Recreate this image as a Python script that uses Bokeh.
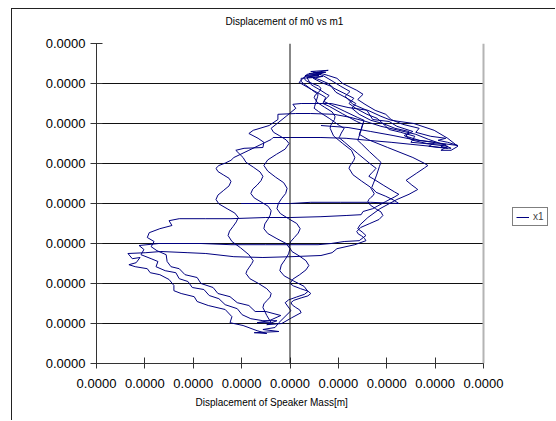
from bokeh.plotting import figure
from bokeh.models import (Range1d, FixedTicker, CustomJSTickFormatter, Span, Legend, LegendItem, Title)
from bokeh.embed import file_html
from bokeh.resources import INLINE

# Trajectory, in micrometres: (m0 = speaker mass, m1 = "x1")
h4 = [(6.4,19.5),(8.5,19.3),(12.0,19.0),(16.7,18.0),(21.3,17.0),(25.4,16.0),(29.5,15.3),(34.7,14.5)]
d1 = [(32.6,15.3),(30.6,15.8),(32.2,16.3),(29.1,16.8),(26.0,17.8),(26.7,18.8),(23.3,19.8),(20.9,21.0),
      (19.8,22.3),(17.6,23.3),(15.5,24.8),(14.0,26.0),(15.1,27.3),(13.8,28.3),(10.9,30.0),(9.7,31.3),
      (7.9,32.0),(5.6,32.8),(7.9,33.3),(4.3,33.0),(6.6,32.5),(3.5,32.3)]
r1 = [(2.9,31.3),(3.4,30.6),(4.6,30.0),(5.9,29.4),(6.4,28.8),(6.2,28.2),(5.7,27.6),(5.2,27.1),(5.0,26.5),
      (5.6,25.3),(7.1,24.1),(8.7,22.9),(9.3,21.8),(9.2,21.0),(8.8,20.3),(8.4,19.5),(8.3,18.8),(9.0,16.9),
      (10.8,15.1),(12.7,13.3),(13.4,11.5),(13.2,10.8),(12.8,10.1),(12.4,9.4),(12.2,8.8),(13.0,7.2),
      (14.8,5.6),(16.6,4.1),(17.4,2.5),(17.2,2.0),(16.7,1.5),(16.3,1.0),(16.1,0.5),(16.6,-0.4),(17.7,-1.3),
      (18.8,-2.1),(19.2,-3.0),(18.4,-4.0),(16.5,-5.0),(14.6,-6.0),(13.8,-7.0),(14.1,-7.6),(14.8,-8.1),
      (15.4,-8.7),(15.7,-9.3),(13.4,-10.3),(9.7,-11.3),(8.7,-12.3),(6.4,-13.0)]
l2 = [(0.2,-13.3),(-5.6,-13.5),(-11.6,-13.3),(-17.4,-12.5),(-21.1,-12.3),(-26.7,-12.0),(-29.8,-12.3),(-33.5,-12.5)]
da = [(-32.6,-13.8),(-31.0,-13.5),(-31.8,-14.8),(-33.3,-15.3),(-32.0,-15.8),(-29.5,-16.3),(-28.9,-17.3),
      (-26.9,-17.8),(-25.0,-19.0),(-24.0,-20.5),(-24.0,-21.8),(-22.5,-22.5),(-19.8,-23.3),(-19.2,-24.5),
      (-16.9,-25.5),(-13.4,-26.5),(-12.0,-28.3),(-12.4,-29.8),(-9.7,-30.5),(-6.8,-31.8),(-4.8,-32.5),
      (-7.4,-32.3),(-2.3,-32.0),(-5.6,-31.5),(-3.1,-31.0)]
v1 = [(-2.3,-29.8),(0.2,-26.8),(-1.0,-24.8),(-0.3,-24.1),(1.3,-23.4),(3.0,-22.7),(3.7,-22.0),(2.9,-20.7),
      (0.8,-19.4),(-1.2,-18.1),(-2.1,-16.8),(-1.8,-15.4),(-1.0,-14.0),(-0.3,-12.6),(0.0,-11.3),(-0.8,-10.0),
      (-2.7,-8.8),(-4.6,-7.5),(-5.4,-6.3),(-5.2,-5.1),(-4.6,-4.0),(-4.1,-2.9),(-3.9,-1.8),(-4.5,-0.7),
      (-6.0,0.4),(-7.4,1.4),(-8.1,2.5),(-7.7,3.6),(-6.8,4.6),(-6.0,5.7),(-5.6,6.8),(-6.2,7.9),(-7.6,9.1),
      (-9.1,10.3),(-9.7,11.5),(-11.2,13.3),(-9.5,13.8),(-5.6,14.0),(-5.4,15.3),(-6.6,16.3),(-8.5,17.5),
      (-7.6,18.3),(-4.3,19.5),(-2.5,21.0),(-2.5,22.3)]
h3 = [(1.2,22.5),(4.3,22.5),(9.1,22.3),(12.6,21.5),(15.7,20.5),(18.8,19.3),(22.5,18.3),(26.0,17.3),
      (28.7,16.0),(31.6,14.8),(33.3,13.8)]
d2 = [(30.8,14.0),(28.7,14.3),(30.0,15.3),(26.7,15.8),(24.0,16.8),(24.6,18.0),(21.7,18.8),(19.2,20.0),
      (18.0,21.3),(15.9,22.3),(13.6,23.8),(12.2,25.0),(13.2,26.3),(11.6,27.3),(9.1,28.8),(7.9,30.0),
      (6.0,31.0),(4.1,31.8),(6.4,32.3),(3.1,32.0),(5.2,31.5),(2.3,31.3)]
r2 = [(2.3,30.5),(2.8,30.0),(4.0,28.9),(5.2,27.8),(5.8,27.3),(5.7,26.7),(5.4,25.5),(5.1,24.3),(5.0,23.8),
      (5.9,23.0),(8.1,21.3),(10.2,19.5),(11.2,18.8),(11.0,18.4),(10.6,17.6),(10.3,16.8),(10.1,16.5),
      (11.3,15.3),(13.9,12.6),(16.6,9.9),(17.8,8.8),(17.6,8.5),(17.0,7.8),(16.5,7.1),(16.3,6.8),(17.3,6.1),
      (19.4,4.5),(21.6,2.9),(22.5,2.3),(21.7,1.7),(19.8,0.5),(18.0,-0.7),(17.1,-1.3),(15.1,-2.0),(14.7,-2.8)]
l3 = [(11.6,-3.0),(6.4,-3.3),(0.2,-3.5),(-5.0,-3.5),(-12.2,-3.8),(-17.4,-3.8),(-22.9,-3.8),(-25.0,-4.3),
      (-24.4,-5.5),(-26.9,-6.3),(-29.1,-7.3)]
db = [(-29.5,-8.5),(-28.1,-9.5),(-28.7,-10.8),(-27.5,-11.8),(-25.6,-12.8),(-25.4,-14.5),(-24.6,-15.8),
      (-22.9,-16.3),(-21.7,-17.8),(-19.2,-18.5),(-18.4,-20.0),(-15.9,-21.0),(-14.9,-22.5),(-12.4,-23.3),
      (-10.9,-24.8),(-8.5,-25.5),(-7.2,-27.0),(-5.0,-27.0),(-1.9,-28.0),(-4.3,-29.3),(-6.8,-29.8),(-3.9,-29.8)]
v2 = [(-4.8,-28.0),(-5.6,-26.0),(-5.4,-25.1),(-4.8,-24.3),(-4.1,-23.4),(-3.9,-22.5),(-4.8,-21.3),(-6.5,-20.0),
      (-8.3,-18.8),(-9.1,-17.5),(-8.9,-16.8),(-8.4,-15.9),(-7.9,-15.0),(-7.6,-14.3),(-8.5,-12.8),(-10.2,-11.1),
      (-12.0,-9.5),(-12.8,-8.0),(-12.5,-6.9),(-11.8,-5.8),(-11.1,-4.6),(-10.7,-3.5),(-11.4,-2.4),(-13.0,-1.3),
      (-14.7,-0.1),(-15.3,1.0),(-14.9,2.1),(-13.7,3.3),(-12.6,4.4),(-12.2,5.5),(-12.6,6.3),(-13.7,7.1),
      (-14.9,8.0),(-15.3,8.8),(-14.7,9.5),(-13.4,10.1),(-12.2,10.8),(-11.6,11.5),(-8.5,13.3),(-5.6,15.0),
      (-3.9,16.0)]
h5 = [(-3.5,16.5),(0.2,16.5),(6.4,16.5),(11.6,16.3),(16.1,15.8),(20.9,15.3),(25.0,14.8),(29.1,14.3),(32.6,13.8)]
d3 = [(31.2,14.3),(32.2,14.8),(28.3,15.0),(25.4,15.8),(23.6,17.0),(25.4,18.0),(22.1,19.3),(20.5,20.5),
      (17.1,21.0),(15.9,23.3),(13.0,24.8),(11.4,26.8),(12.4,28.0),(10.5,29.3),(8.5,30.8),(6.8,32.0),
      (4.8,32.8),(7.4,32.8),(3.9,32.5),(6.0,32.0)]
r3 = [(3.1,31.8),(1.9,30.3),(2.7,29.7),(4.6,28.4),(6.6,27.1),(7.4,26.5),(7.1,25.8),(6.8,25.0),(8.1,24.3),
      (10.9,22.4),(13.8,20.5),(15.1,19.8),(14.9,19.4),(14.7,18.5),(14.4,17.6),(14.3,17.3),(16.3,15.9),
      (20.2,14.0),(25.4,11.5),(27.7,10.1),(28.5,9.5),(27.8,8.9),(26.2,7.6),(24.6,6.3),(24.0,5.8),(24.4,5.4),
      (25.2,4.6),(26.1,3.8),(26.4,3.5),(24.6,2.3),(22.1,1.0),(18.6,-1.3),(16.1,-3.5),(14.5,-5.3),(14.0,-6.3),
      (14.9,-7.1),(15.7,-8.0),(14.3,-9.3),(11.2,-9.5),(8.5,-10.0),(5.8,-10.3)]
l1 = [(0.2,-10.3),(-5.0,-10.3),(-12.2,-10.3),(-18.4,-10.0),(-24.6,-10.0),(-27.1,-10.0),(-31.2,-10.5)]
dc = [(-30.2,-11.5),(-30.8,-12.8),(-28.7,-13.8),(-27.3,-14.5),(-27.7,-15.8),(-25.8,-16.8),(-23.6,-17.3),
      (-22.9,-18.8),(-21.1,-19.5),(-20.2,-21.0),(-17.8,-21.5),(-16.7,-23.0),(-14.7,-23.8),(-13.4,-25.3),
      (-10.9,-26.3),(-9.9,-27.8),(-8.1,-28.8),(-5.6,-29.3),(-2.7,-29.3),(-4.8,-30.3),(-1.7,-30.0)]
v3 = [(0.3,-28.6),(2.3,-27.3),(2.0,-26.6),(1.2,-26.0),(0.5,-25.4),(0.2,-24.8),(0.8,-24.2),(2.3,-23.6),
      (3.7,-23.1),(4.3,-22.5),(3.7,-21.9),(2.2,-21.3),(0.7,-20.6),(0.0,-20.0),(0.6,-18.9),(2.0,-17.8),
      (3.3,-16.6),(3.9,-15.5),(3.3,-14.3),(1.9,-13.1),(0.4,-12.0),(-0.2,-10.8),(0.1,-9.6),(0.9,-8.5),
      (1.7,-7.4),(2.1,-6.3),(1.4,-5.0),(-0.3,-3.8),(-2.0,-2.5),(-2.7,-1.3),(-2.4,0.0),(-1.7,1.3),(-0.9,2.5),
      (-0.6,3.8),(-1.3,5.2),(-3.0,6.6),(-4.6,8.1),(-5.4,9.5),(-4.6,10.9),(-2.8,12.3),(-1.0,13.6),(-0.2,15.0),
      (-0.8,15.9),(-2.1,16.9),(-3.4,17.8),(-3.9,18.8),(-0.8,21.8),(1.2,23.8),(0.6,24.8)]
h1 = [(2.3,25.0),(8.5,25.0),(12.0,24.0),(16.1,23.3),(18.8,21.8),(20.9,20.8),(25.6,20.0),(29.8,18.3),
      (32.6,16.3),(34.7,14.3)]
d4 = [(33.3,13.3),(31.2,13.3),(32.6,14.3),(27.9,15.0),(25.0,15.3),(25.8,16.8),(22.9,17.8),(20.5,18.5),
      (19.2,20.0),(16.7,20.8),(14.3,22.3),(12.8,23.8),(13.6,25.0),(11.8,26.3),(9.5,27.8),(8.5,29.3),
      (6.4,30.3),(4.8,31.3),(6.8,31.8),(3.5,31.5)]
r4 = [(4.3,29.8),(4.9,29.3),(6.2,28.4),(7.5,27.4),(8.1,27.0),(7.5,26.3),(7.0,25.5),(8.3,24.8),(11.2,23.1),
      (14.0,21.5),(15.3,20.8),(15.1,20.0),(14.7,18.3),(14.2,16.5),(14.0,15.8),(14.8,14.9),(16.4,13.0),
      (18.1,11.1),(18.8,10.3),(18.5,9.3),(17.9,7.1),(17.2,4.9),(16.9,4.0),(17.8,2.8),(19.8,1.8),(21.5,0.8),
      (22.5,0.0)]
l0 = [(16.7,0.3),(10.5,0.3),(4.3,0.3),(0.0,0.0),(-5.0,0.0),(-10.1,0.0)]

strands = [h4, d1, r1, l2, da, v1, h3, d2, r2, l3, db, v2, h5, d3, r3, l1, dc, v3, h1, d4, r4, l0]
m0_m = [pt[0] * 1e-6 for s in strands for pt in s]
x1_m = [pt[1] * 1e-6 for s in strands for pt in s]

tick_values = [-4e-5, -3e-5, -2e-5, -1e-5, 0.0, 1e-5, 2e-5, 3e-5, 4e-5]
axis_min, axis_max = -4e-5, 4e-5
series_label = "x1"
title_text = "Displacement of m0 vs m1"
xlabel_text = "Displacement of Speaker Mass[m]"

# plot area spans 387 px for the 8e-5 m axis; the frame is widened to the right edge
# so that the legend (which sits outside the value area) is not clipped
frame_w = 460
x_hi = axis_min + (axis_max - axis_min) * frame_w / 387.0

p = figure(width=544, height=412, output_backend="svg", toolbar_location=None,
           x_range=Range1d(axis_min, x_hi), y_range=Range1d(axis_min, axis_max),
           min_border_left=84, min_border_right=0, min_border_top=34, min_border_bottom=58,
           title=None,
           margin=(8, 0, 0, 11),
           styles={"border-left": "1px solid #222222", "border-top": "1px solid #222222"})
p.background_fill_color = "white"
p.border_fill_color = "white"
p.outline_line_color = None

spacer = Title(text=" ", text_font="Liberation Sans", text_font_size="10px", standoff=4)
p.add_layout(spacer, "above")
ttl = Title(text=title_text, align="left", offset=129, text_font="Liberation Sans",
            text_font_size="10px", text_font_style="normal", text_color="black", standoff=0)
p.add_layout(ttl, "above")

fmt = CustomJSTickFormatter(code="return Math.abs(tick).toFixed(4);")
for ax in (p.xaxis, p.yaxis):
    ax.ticker = FixedTicker(ticks=tick_values)
    ax.formatter = fmt
    ax.minor_tick_line_color = None
    ax.axis_line_color = "#333333"
    ax.major_tick_line_color = "#333333"
    ax.major_label_text_font = "Liberation Sans"
    ax.major_label_text_font_size = "13px"
    ax.major_label_text_color = "black"
p.xaxis.bounds = (axis_min, axis_max)
p.xaxis.major_label_standoff = 10
p.yaxis.major_label_standoff = 5
p.xaxis.major_tick_in = 6
p.xaxis.major_tick_out = 5
p.yaxis.major_tick_in = 6
p.yaxis.major_tick_out = 6

xl = Title(text=xlabel_text, align="left", offset=99, vertical_align="top", text_baseline="top",
           text_font="Liberation Sans", text_font_size="10px", text_font_style="normal",
           text_color="black", standoff=12)
p.add_layout(xl, "below")

p.xgrid.visible = False
p.ygrid.ticker = FixedTicker(ticks=tick_values)
p.ygrid.grid_line_color = "#111111"
p.ygrid.grid_line_width = 1
try:
    p.ygrid.cross_bounds = (axis_min, axis_max)
except Exception:
    p.ygrid.visible = False
    p.segment(x0=[axis_min] * len(tick_values), y0=tick_values,
              x1=[axis_max] * len(tick_values), y1=tick_values, line_color="#111111", line_width=1)

p.add_layout(Span(location=0.0, dimension="height", line_color="#111111", line_width=1))
p.add_layout(Span(location=axis_max, dimension="height", line_color="#b4b4b4", line_width=2))

r = p.line(m0_m, x1_m, line_color="#000080", line_width=1)

legend = Legend(items=[LegendItem(label=series_label, renderers=[r])], location=(416, 137))
legend.border_line_color = "black"
legend.border_line_width = 1
legend.padding = 3
legend.margin = 0
legend.spacing = 0
legend.glyph_width = 13
legend.glyph_height = 10
legend.label_height = 10
legend.label_width = 8
legend.label_standoff = 4
legend.label_text_font = "Liberation Sans"
legend.label_text_font_size = "10px"
legend.background_fill_color = "white"
p.add_layout(legend)

open("out.html", "w").write(file_html(p, INLINE))
